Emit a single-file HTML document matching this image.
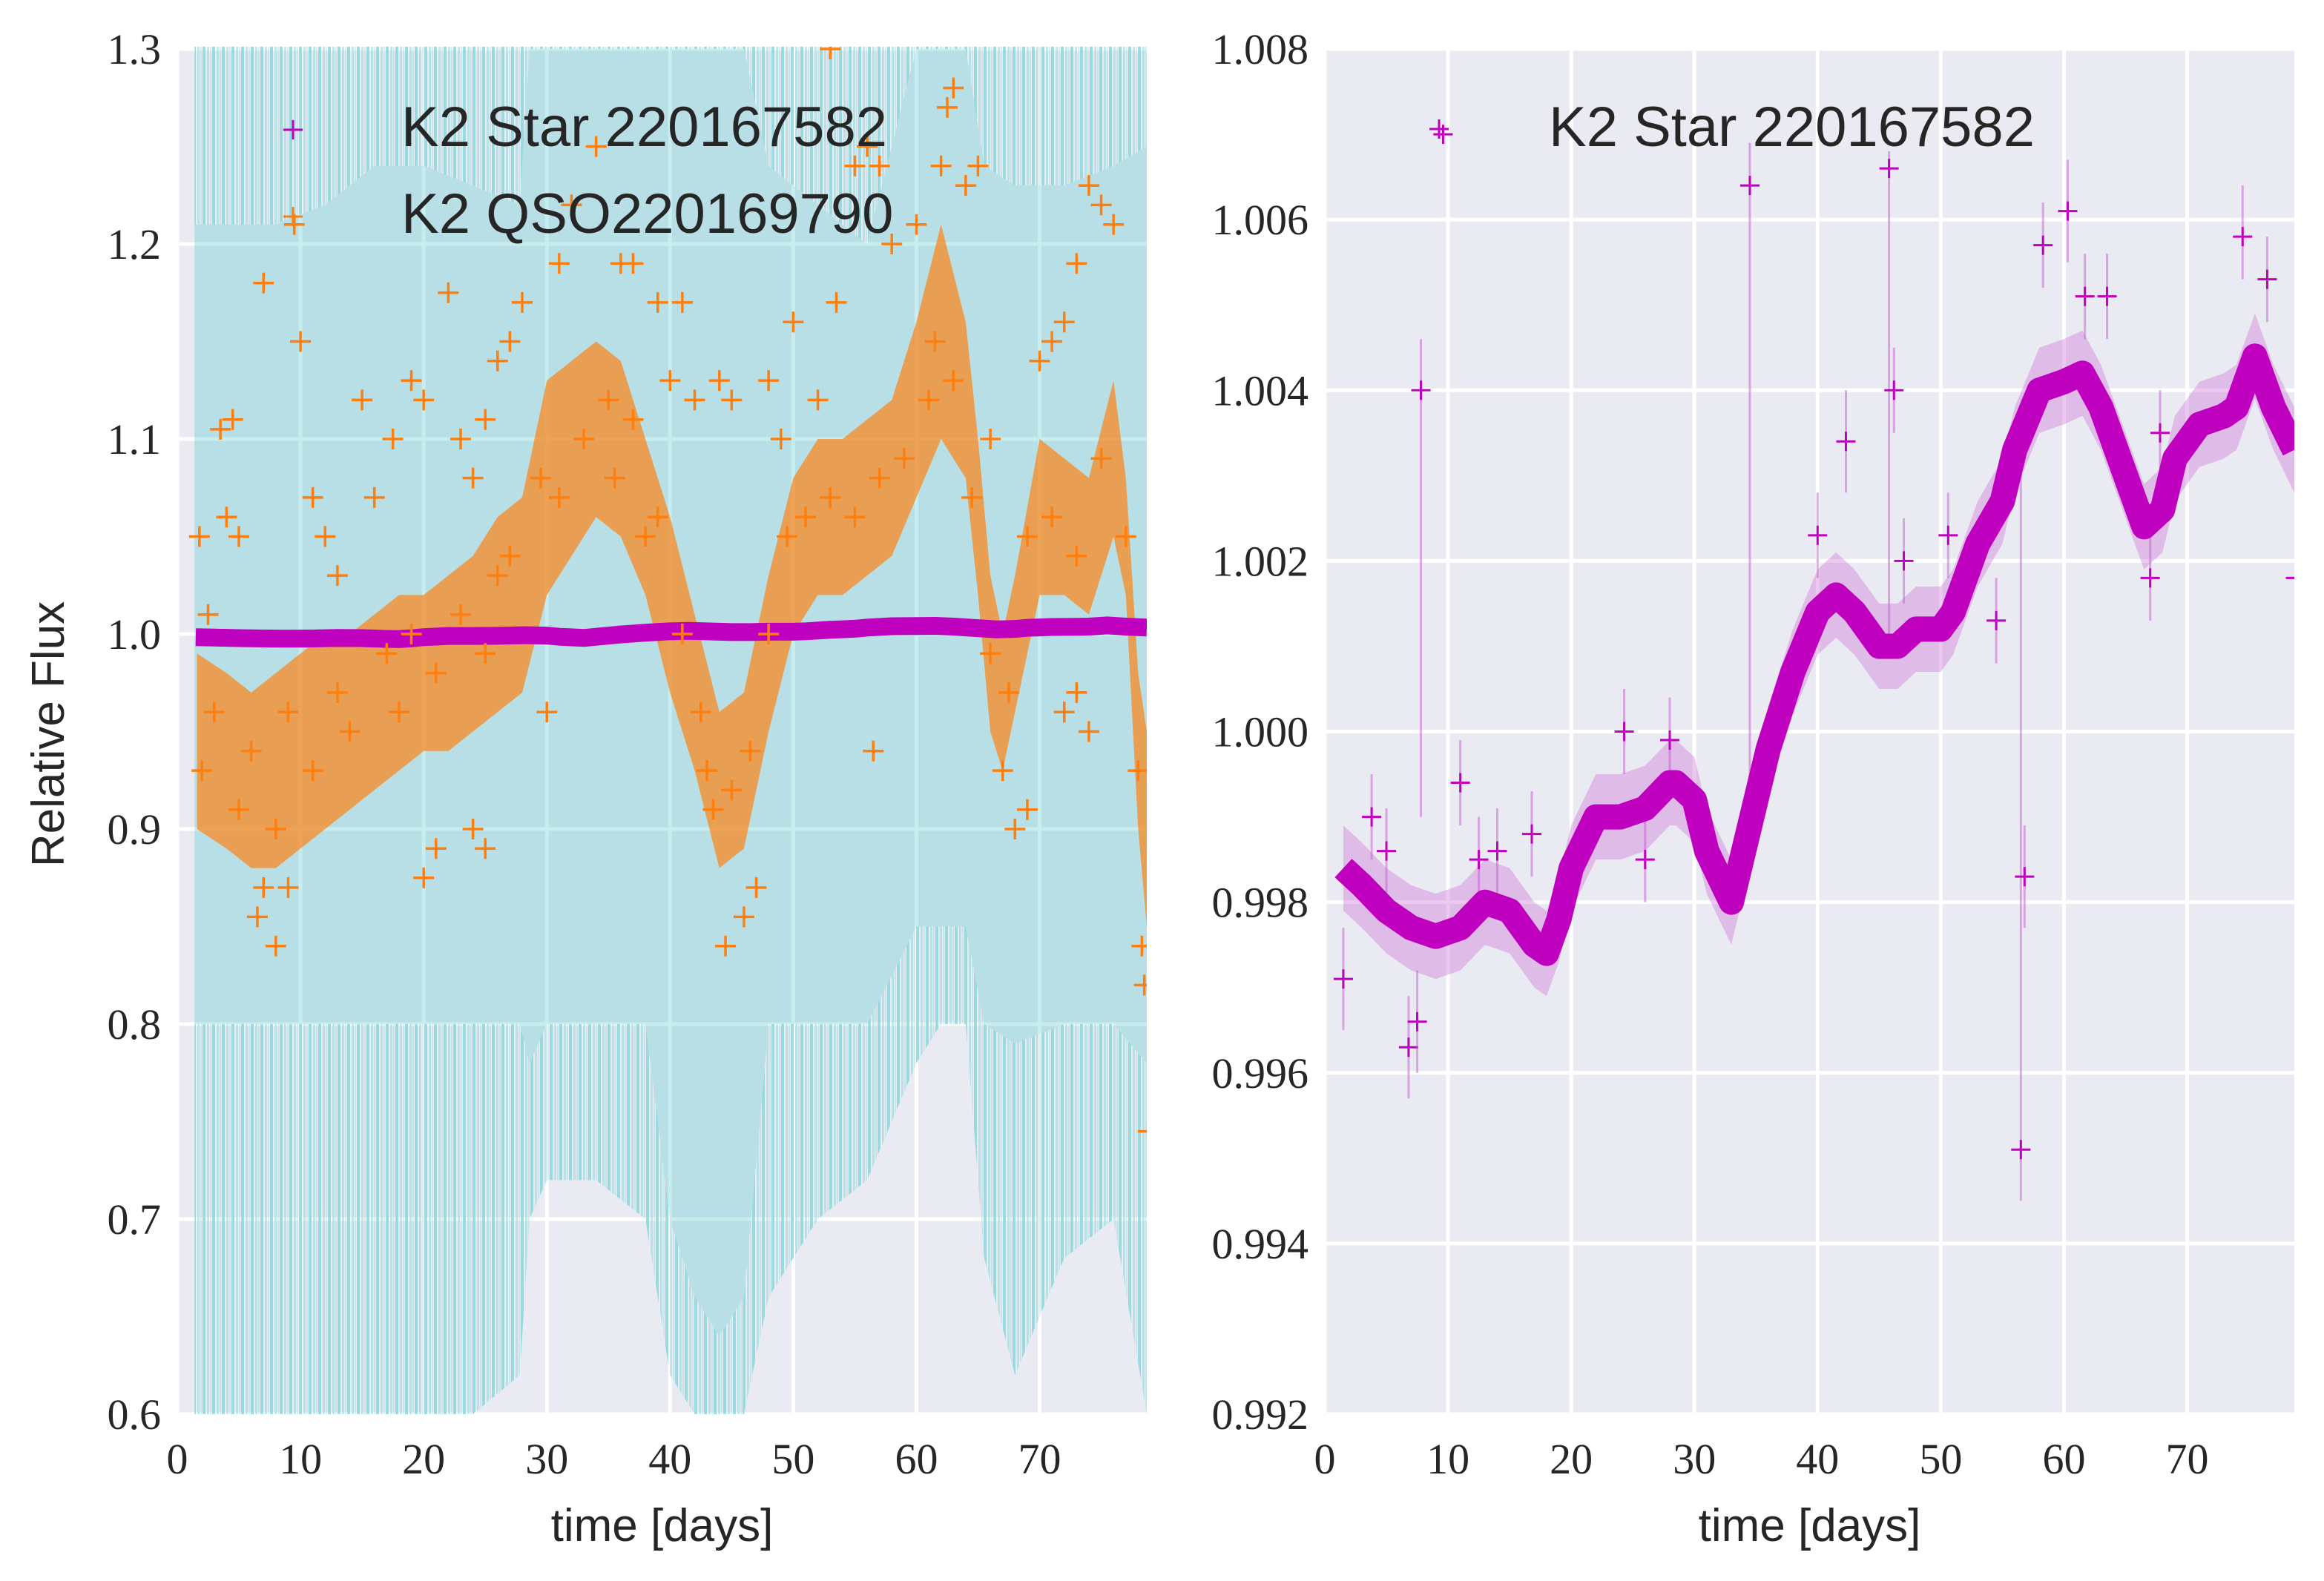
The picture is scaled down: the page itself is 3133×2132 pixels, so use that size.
<!DOCTYPE html>
<html><head><meta charset="utf-8"><style>
html,body{margin:0;padding:0;background:#fff}
svg{display:block}
.tick{font-family:"Liberation Serif",serif;font-size:58px;fill:#262626}
.lab{font-family:"Liberation Sans",sans-serif;font-size:62px;fill:#262626}
.leg{font-family:"Liberation Sans",sans-serif;font-size:76px;fill:#262626}
</style></head><body>
<svg id="fig" width="3133" height="2132" viewBox="0 0 3133 2132" xmlns="http://www.w3.org/2000/svg">
<defs>
<pattern id="stripes" patternUnits="userSpaceOnUse" width="13" height="400">
<rect x="0" y="0" width="4" height="400" fill="rgba(140,215,220,0.85)"/>
<rect x="6" y="0" width="3" height="400" fill="rgba(150,218,222,0.6)"/>
<rect x="10" y="0" width="2" height="400" fill="rgba(160,222,225,0.45)"/>
</pattern>
</defs>
<g id="left"></g>
<g id="right"></g>
</svg>
<script>
// ---- data ----
const xTicks = [0,10,20,30,40,50,60,70];
const leftYTicks = [0.6,0.7,0.8,0.9,1.0,1.1,1.2,1.3];
const leftYLabels = ["0.6","0.7","0.8","0.9","1.0","1.1","1.2","1.3"];
const rightYTicks = [0.992,0.994,0.996,0.998,1.000,1.002,1.004,1.006,1.008];
const rightYLabels = ["0.992","0.994","0.996","0.998","1.000","1.002","1.004","1.006","1.008"];

// QSO error band (cyan)
const bandDays = [1.4,4,8,12,16,20,24,27.8,28.6,30,34,38,40,42,44,46,48,52,56,60,62,64,65.5,68,72,76,78.7];
const bandHigh = [1.21,1.21,1.21,1.22,1.24,1.24,1.23,1.22,1.30,1.30,1.30,1.30,1.30,1.30,1.30,1.30,1.24,1.22,1.20,1.30,1.30,1.30,1.24,1.23,1.23,1.24,1.25];
const bandLow  = [0.80,0.80,0.80,0.80,0.80,0.80,0.80,0.80,0.78,0.80,0.80,0.80,0.70,0.66,0.64,0.66,0.80,0.80,0.80,0.85,0.85,0.85,0.80,0.79,0.80,0.80,0.78];
const spikeLow = [0.60,0.60,0.60,0.60,0.60,0.60,0.60,0.62,0.70,0.72,0.72,0.70,0.62,0.60,0.60,0.60,0.66,0.70,0.72,0.78,0.80,0.80,0.68,0.62,0.68,0.70,0.60];

// QSO flux cloud core
const qsoDays = [1.6,4,6,8,10,12,14,16,18,20,22,24,26,28,30,32,34,36,38,40,42,44,46,48,50,52,54,56,58,60,62,64,65,66,67,68,70,72,74,76,77,78,78.7];
const qsoLow  = [0.90,0.89,0.88,0.88,0.89,0.90,0.91,0.92,0.93,0.94,0.94,0.95,0.96,0.97,1.02,1.04,1.06,1.05,1.02,0.97,0.93,0.88,0.89,0.95,1.00,1.02,1.02,1.03,1.04,1.07,1.10,1.08,1.02,0.95,0.93,0.96,1.02,1.02,1.01,1.05,1.02,0.90,0.85];
const qsoHigh = [0.99,0.98,0.97,0.98,0.99,1.00,1.00,1.01,1.02,1.02,1.03,1.04,1.06,1.07,1.13,1.14,1.15,1.14,1.10,1.06,1.01,0.96,0.97,1.03,1.08,1.10,1.10,1.11,1.12,1.16,1.21,1.16,1.10,1.03,1.00,1.03,1.10,1.09,1.08,1.13,1.08,0.98,0.95];
// individual QSO points
const qsoT = [1.8,2.5,3.5,4.5,4,5,7,9.5,10,11,12,13,15,16,17.5,19,20,22,23,24,25,26,27,28,6.5,8,9,7,20,21,24,25,30,31,32,34,36,37,39,40,38,41,42,44,45,43,44.5,46,47,48,49,50,52,53,53.5,55,56,57,56.5,58,60,62,63,62.5,64,65,66,67,68,69,70,71,72,73,74,75,76,74,72,73,78.8,78.5,78.3,
 2,3,5,6,8,9,11,13,14,17,18,19,21,23,25,26,27,29.5,31,33,35,35.5,37,39,41,42.5,43.5,45,46.5,48,49.5,51,53,55,57,59,61,61.5,63,64.5,66,67.5,69,71,73,75,77,78];
const qsoF = [1.05,1.01,1.105,1.11,1.06,1.05,1.18,1.21,1.15,1.07,1.05,1.03,1.12,1.07,1.10,1.13,1.12,1.175,1.10,1.08,1.11,1.14,1.15,1.17,0.855,0.84,0.87,0.87,0.875,0.89,0.90,0.89,0.96,1.19,1.22,1.25,1.19,1.19,1.17,1.13,1.05,1.17,1.12,1.13,1.12,0.93,0.84,0.855,0.87,1.13,1.10,1.16,1.12,1.30,1.17,1.24,1.25,1.24,0.94,1.20,1.21,1.24,1.28,1.27,1.23,1.24,1.10,0.93,0.90,0.91,1.14,1.15,1.16,1.19,1.23,1.22,1.21,0.95,0.96,0.97,0.745,0.82,0.84,
 0.93,0.96,0.91,0.94,0.90,0.96,0.93,0.97,0.95,0.99,0.96,1.00,0.98,1.01,0.99,1.03,1.04,1.08,1.07,1.10,1.12,1.08,1.11,1.06,1.00,0.96,0.91,0.92,0.94,1.00,1.05,1.06,1.07,1.06,1.08,1.09,1.12,1.15,1.13,1.07,0.99,0.97,1.05,1.06,1.04,1.09,1.05,0.93];

// Star light curve
const starDays = [1.5,3,5,7,9,11,13,15,17,18,19,20,22,24,26,28,28.5,30,31,33,34,36,38,40,41.5,43,45,46.5,48,50,51,53,55,56,58,60,61.5,63,65,66.5,68,69,71,73,74,75.5,77,78.7];
const starFlux = [0.9984,0.9982,0.9979,0.9977,0.9976,0.9977,0.9980,0.9979,0.9975,0.9974,0.9978,0.9984,0.9990,0.9990,0.9991,0.9994,0.9994,0.9992,0.9986,0.9980,0.9986,0.9998,1.0007,1.0014,1.0016,1.0014,1.0010,1.0010,1.0012,1.0012,1.0014,1.0022,1.0027,1.0033,1.0040,1.0041,1.0042,1.0038,1.0030,1.0024,1.0026,1.0032,1.0036,1.0037,1.0038,1.0044,1.0038,1.0033];
const starOutT = [1.5,7.8,9.6,34.5,45.8,46.2,56.5,56.8,60.3,58.3,74.5,76.5,78.8,42.3,40,24.3,11,6.8,7.5,16.8,28,50.6,61.7,63.5,3.8,5,12.5,14,26,47,54.5,67,67.8];
const starOutF = [0.9971,1.0040,1.0070,1.0064,1.0066,1.0040,0.9951,0.9983,1.0061,1.0057,1.0058,1.0053,1.0018,1.0034,1.0023,1.0000,0.9994,0.9963,0.9966,0.9988,0.9999,1.0023,1.0051,1.0051,0.9990,0.9986,0.9985,0.9986,0.9985,1.0020,1.0013,1.0018,1.0035];
const starOutLo = [0.9965,0.9990,1.0070,0.9985,1.0010,1.0035,0.9945,0.9977,1.0055,1.0052,1.0053,1.0048,1.0012,1.0028,1.0018,0.9995,0.9989,0.9957,0.9960,0.9983,0.9994,1.0018,1.0046,1.0046,0.9985,0.9981,0.9980,0.9981,0.9980,1.0015,1.0008,1.0013,1.0030];
const starOutHi = [0.9977,1.0046,1.0070,1.0069,1.0068,1.0045,1.0035,0.9989,1.0067,1.0062,1.0064,1.0058,1.0024,1.0040,1.0028,1.0005,0.9999,0.9969,0.9972,0.9993,1.0004,1.0028,1.0056,1.0056,0.9995,0.9991,0.9990,0.9991,0.9990,1.0025,1.0018,1.0023,1.0040];

// ---- helpers ----
const NS = "http://www.w3.org/2000/svg";
function mk(parent, tag, attrs){const e=document.createElementNS(NS,tag);for(const k in attrs)e.setAttribute(k,attrs[k]);parent.appendChild(e);return e;}
const XMAX = 78.7;
function axes(x0,x1,y0,y1,ymin,ymax){
  return {sx:d=>x0+(d/XMAX)*(x1-x0), sy:v=>y1-(v-ymin)/(ymax-ymin)*(y1-y0), x0,x1,y0,y1};
}
function plus(g,x,y,s,color,w){
  return mk(g,"path",{d:`M${x-s} ${y}H${x+s}M${x} ${y-s}V${y+s}`,stroke:color,"stroke-width":w,fill:"none"});
}
function frame(g,A,yTicks,name){
  const bg=mk(g,"rect",{x:A.x0,y:A.y0,width:A.x1-A.x0,height:A.y1-A.y0,fill:"#EAEAF2"});
  
  
  const grid=mk(g,"g",{});
  
  
  xTicks.forEach(t=>{const x=A.sx(t);mk(grid,"line",{x1:x,x2:x,y1:A.y0,y2:A.y1,stroke:"#fff","stroke-width":5});});
  yTicks.forEach(t=>{const y=A.sy(t);mk(grid,"line",{x1:A.x0,x2:A.x1,y1:y,y2:y,stroke:"#fff","stroke-width":5});});
}
function labels(g,A,yTicks,yLabels,name){
  xTicks.forEach(t=>{const tx=mk(g,"text",{x:A.sx(t),y:A.y1+80,"text-anchor":"middle",class:"tick"});tx.textContent=String(t);
    
    });
  yTicks.forEach((t,i)=>{const tx=mk(g,"text",{x:A.x0-22,y:A.sy(t)+20,"text-anchor":"end",class:"tick"});tx.textContent=yLabels[i];
    
    });
  const xl=mk(g,"text",{x:(A.x0+A.x1)/2,y:2078,"text-anchor":"middle",class:"lab"});xl.textContent="time [days]";
  
  
}
function area(g,A,days,hi,lo,fill){
  let d="M"+days.map((t,i)=>A.sx(t)+" "+A.sy(hi[i])).join("L");
  d+="L"+days.slice().reverse().map((t,i)=>A.sx(t)+" "+A.sy(lo[days.length-1-i])).join("L")+"Z";
  return mk(g,"path",{d,fill});
}

// ---- left panel ----
const L=document.getElementById("left");
const AL=axes(239,1546,66,1907,0.6,1.3);
frame(L,AL,leftYTicks,"left");
const clipL=mk(L,"clipPath",{id:"cl"});mk(clipL,"rect",{x:AL.x0,y:AL.y0-3,width:AL.x1-AL.x0,height:AL.y1-AL.y0+3});
const pl=mk(L,"g",{"clip-path":"url(#cl)"});


const top13=bandDays.map(()=>1.32);
const sp1=area(pl,AL,bandDays,top13,bandHigh,"url(#stripes)");


const sp2=area(pl,AL,bandDays,bandLow,spikeLow,"url(#stripes)");


const band=area(pl,AL,bandDays,bandHigh,bandLow,"rgba(100,205,208,0.36)");


const qc=area(pl,AL,qsoDays,qsoHigh,qsoLow,"rgba(255,127,14,0.68)");


let sd="M"+starDays.map((t,i)=>AL.sx(t)+" "+AL.sy(starFlux[i])).join("L");
const sl=mk(pl,"path",{d:sd,stroke:"#BF00BF","stroke-width":24,fill:"none"});


const qg=mk(pl,"g",{});


qsoT.forEach((t,i)=>{const p=plus(qg,AL.sx(t),AL.sy(qsoF[i]),14,"#FF7F0E",3.5);
  
  });
const lg=mk(L,"g",{});


plus(lg,395,175,13,"#BF00BF",3);plus(lg,395,292,13,"#FF7F0E",3);
const t1=mk(lg,"text",{x:541,y:197,class:"leg"});t1.textContent="K2 Star 220167582";


const t2=mk(lg,"text",{x:541,y:314,class:"leg"});t2.textContent="K2 QSO220169790";


labels(L,AL,leftYTicks,leftYLabels,"left");
const yl=mk(L,"text",{x:0,y:0,"text-anchor":"middle",class:"lab",transform:"translate(86,990) rotate(-90)"});yl.textContent="Relative Flux";



// ---- right panel ----
const R=document.getElementById("right");
const AR=axes(1786,3093,66,1907,0.992,1.008);
frame(R,AR,rightYTicks,"right");
const clipR=mk(R,"clipPath",{id:"cr"});mk(clipR,"rect",{x:AR.x0,y:AR.y0,width:AR.x1-AR.x0,height:AR.y1-AR.y0});
const pr=mk(R,"g",{"clip-path":"url(#cr)"});


const hiR=starFlux.map(v=>v+0.0005), loR=starFlux.map(v=>v-0.0005);
const rb=area(pr,AR,starDays,hiR,loR,"rgba(205,110,215,0.38)");


const eg=mk(pr,"g",{});


starOutT.forEach((t,i)=>{
  const x=AR.sx(t);
  const e=mk(eg,"line",{x1:x,x2:x,y1:AR.sy(starOutLo[i]),y2:AR.sy(starOutHi[i]),stroke:"rgba(200,90,210,0.5)","stroke-width":3});
  
  
  const p=plus(eg,x,AR.sy(starOutF[i]),13,"#BF00BF",3);
  
  
});
let rd="M"+starDays.map((t,i)=>AR.sx(t)+" "+AR.sy(starFlux[i])).join("L");
const rl=mk(pr,"path",{d:rd,stroke:"#BF00BF","stroke-width":34,fill:"none","stroke-linejoin":"round"});


const rg=mk(R,"g",{});


plus(rg,1940,174,13,"#BF00BF",3);
const t3=mk(rg,"text",{x:2088,y:197,class:"leg"});t3.textContent="K2 Star 220167582";


labels(R,AR,rightYTicks,rightYLabels,"right");
</script>
</body></html>
